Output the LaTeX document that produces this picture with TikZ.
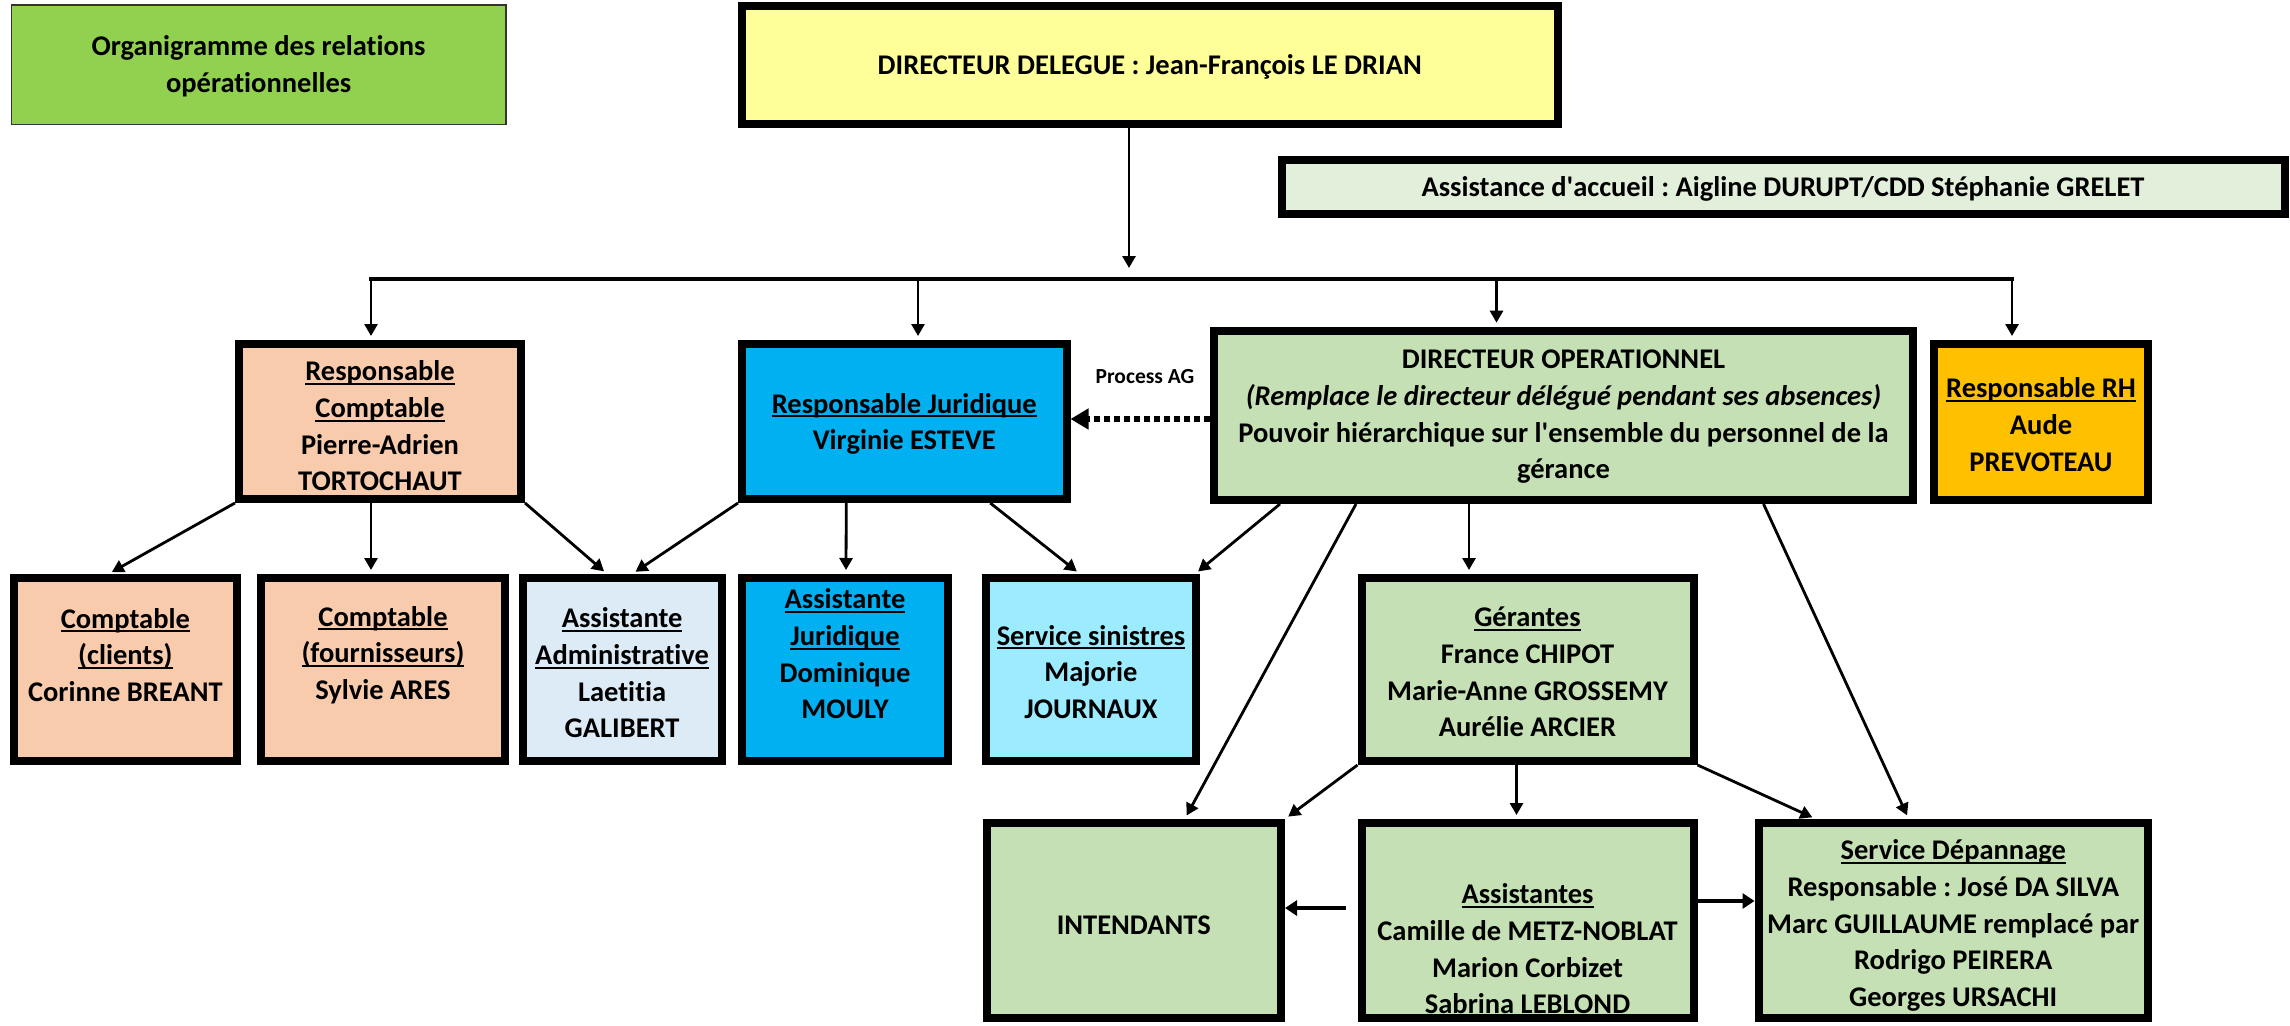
\documentclass[tikz,border=0pt]{standalone}
\usepackage{fontspec}
\setmainfont{Carlito}[Ligatures=NoCommon]
\frenchspacing
\usetikzlibrary{arrows.meta,calc}
\definecolor{cTitle}{HTML}{92D050}
\definecolor{cYel}{HTML}{FFFF99}
\definecolor{cAcc}{HTML}{E2EFDA}
\definecolor{cPeach}{HTML}{F8CBAD}
\definecolor{cBlue}{HTML}{00B0F0}
\definecolor{cPale}{HTML}{DDEBF7}
\definecolor{cCyan}{HTML}{9CEBFF}
\definecolor{cGreen}{HTML}{C5E0B4}
\definecolor{cOrange}{HTML}{FFC000}
\newcommand\uln[1]{\setbox0\hbox{#1}\leavevmode\rlap{\rule[-0.14em]{\wd0}{0.07em}}\box0}
\newcommand\apo{\textquotesingle}
\tikzset{
  box/.style={draw=black, line width=8pt, inner sep=0pt, rectangle},
  txt/.style={font=\fontsize{28.5}{36.7}\selectfont\bfseries\frenchspacing, align=center, inner sep=0pt},
  lab/.style={font=\fontsize{21.5}{26}\selectfont\bfseries, inner sep=0pt},
  arr/.style={line width=2.8pt, shorten >=4pt, -{Triangle[length=12pt,width=13pt]}},
  arrB/.style={line width=4pt, -{Triangle[length=12pt,width=15pt]}},
  bus/.style={line width=3.5pt, line cap=rect},
  dotarr/.style={line width=5.5pt, dash pattern=on 6pt off 4pt, -{Triangle[length=18pt,width=20pt]}},
}
\begin{document}
\begin{tikzpicture}[x=1pt,y=-1pt]
\useasboundingbox (0,0) rectangle (2290,1025);
% top row
\node[draw=black!80, line width=1.5pt, fill=cTitle, minimum width=494.3pt, minimum height=119.2pt, inner sep=0pt] (title) at (258.6,64.65) {};
\node[txt] (title-t) at (258.6,66) {Organigramme des relations\\opérationnelles};
\node[box, fill=cYel, minimum width=815.5pt, minimum height=118.3pt] (dd) at (1149.75,64.85) {};
\node[txt] (dd-t) at (1149.75,67) {DIRECTEUR DELEGUE : Jean-François LE DRIAN};
\node[box, fill=cAcc, minimum width=1003pt, minimum height=54pt] (acc) at (1783,187) {};
\node[txt] (acc-t) at (1783,189) {Assistance d\apo accueil : Aigline DURUPT/CDD Stéphanie GRELET};
% second row
\node[box, fill=cPeach, minimum width=282pt, minimum height=155pt] (rc) at (380,421.5) {};
\node[txt] (rc-t) at (380,426) {\uln{Responsable}\\\uln{Comptable}\\Pierre-Adrien\\TORTOCHAUT};
\node[box, fill=cBlue, minimum width=324.5pt, minimum height=155pt] (rj) at (904.25,421.5) {};
\node[txt] (rj-t) at (904.25,424) {\uln{Responsable Juridique}\\Virginie ESTEVE};
\node[box, fill=cGreen, minimum width=699pt, minimum height=169.3pt] (dop) at (1563.5,415.35) {};
\node[txt] (dop-t) at (1563.5,417) {DIRECTEUR OPERATIONNEL\\\textit{(Remplace le directeur délégué pendant ses absences)}\\Pouvoir hiérarchique sur l\apo ensemble du personnel de la\\gérance};
\node[box, fill=cOrange, minimum width=214pt, minimum height=156pt] (rh) at (2041,422) {};
\node[txt] (rh-t) at (2041,424.7) {\uln{Responsable RH}\\Aude\\PREVOTEAU};
% third row
\node[box, fill=cPeach, minimum width=223.3pt, minimum height=183pt] (cc) at (125.35,669.5) {};
\node[txt] (cc-t) at (125.35,655) {\uln{Comptable}\\\uln{(clients)}\\Corinne BREANT};
\node[box, fill=cPeach, minimum width=244pt, minimum height=183pt] (cf) at (383,669.5) {};
\node[txt] (cf-t) at (383,655) {\uln{Comptable}\\\uln{(fournisseurs)}\\Sylvie ARES};
\node[box, fill=cPale, minimum width=199pt, minimum height=183pt] (aa) at (622.1,669.5) {};
\node[txt] (aa-t) at (622.1,673) {\uln{Assistante}\\\uln{Administrative}\\Laetitia\\GALIBERT};
\node[box, fill=cBlue, minimum width=206pt, minimum height=183pt] (aj) at (845,669.5) {};
\node[txt] (aj-t) at (845,654) {\uln{Assistante}\\\uln{Juridique}\\Dominique\\MOULY};
\node[box, fill=cCyan, minimum width=210pt, minimum height=183pt] (ss) at (1091,669.5) {};
\node[txt] (ss-t) at (1091,672) {\uln{Service sinistres}\\Majorie\\JOURNAUX};
\node[box, fill=cGreen, minimum width=332pt, minimum height=183pt] (ger) at (1527.5,669.5) {};
\node[txt] (ger-t) at (1527.5,672) {\uln{Gérantes}\\France CHIPOT\\Marie-Anne GROSSEMY\\Aurélie ARCIER};
% fourth row
\node[box, fill=cGreen, minimum width=294.5pt, minimum height=195pt] (int) at (1133.75,920.5) {};
\node[txt] (int-t) at (1133.75,925) {INTENDANTS};
\node[box, fill=cGreen, minimum width=332pt, minimum height=195pt] (ass) at (1527.5,920.5) {};
\node[txt] (ass-t) at (1527.5,949) {\uln{Assistantes}\\Camille de METZ-NOBLAT\\Marion Corbizet\\Sabrina LEBLOND};
\node[box, fill=cGreen, minimum width=389.5pt, minimum height=195pt] (sd) at (1953.25,920.5) {};
\node[txt] (sd-t) at (1953.25,925.5) {\uln{Service Dépannage}\\Responsable : José DA SILVA\\Marc GUILLAUME remplacé par\\Rodrigo PEIRERA\\Georges URSACHI};
% bus
\coordinate (ddout) at (1129,268);
\coordinate (b1) at (371,279);
\coordinate (b2) at (918,279);
\coordinate (b3) at (1496.5,279);
\coordinate (b4) at (2012,279);
\coordinate (yAG) at (0,419);
\draw[arr, shorten >=0pt] (dd.south -| ddout) -- (ddout);
\draw[bus] (b1) -- (b4);
\draw[arr] (b1) -- (b1 |- rc.north);
\draw[arr] (b2) -- (b2 |- rj.north);
\draw[arr] (b3) -- (b3 |- dop.north);
\draw[arr] (b4) -- (b4 |- rh.north);
% connectors
\draw[arr] (rc.south west) -- ($(cc.north)+(-17,0)$);
\draw[arr] ($(rc.south)+(-9,0)$) -- ($(cf.north)+(-12,0)$);
\draw[arr] (rc.south east) -- ($(aa.north)+(-15,0)$);
\draw[arr] (rj.south west) -- ($(aa.north)+(10,0)$);
\draw[arr] ($(rj.south)+(-58,0)$) -- ($(aj.north)+(1,0)$);
\draw[arr] ($(rj.south)+(86,0)$) -- ($(ss.north)+(-11,0)$);
\draw[arr] ($(dop.south west)+(70,0)$) -- ($(ss.north east)+(-5,0)$);
\draw[arr] ($(dop.south west)+(146,0)$) -- ($(int.north)+(51,0)$);
\draw[arr] ($(dop.south)+(-94.5,0)$) -- ($(ger.north)+(-58.5,0)$);
\draw[arr] ($(dop.south)+(200,0)$) -- ($(sd.north)+(-44.5,0)$);
\draw[arr] (ger.south west) -- (int.north east);
\draw[arr] ($(ger.south)+(-11,0)$) -- ($(ass.north)+(-11,0)$);
\draw[arr] (ger.south east) -- ($(sd.north west)+(61.5,0)$);
\draw[arrB] ($(ass.west)+(-12,-12.5)$) -- ($(int.east)+(0,-12.5)$);
\draw[arrB] ($(ass.east)+(0,-19.5)$) -- ($(sd.west)+(0,-19.5)$);
\draw[dotarr] (dop.west |- yAG) -- (rj.east |- yAG);
\node[lab] (pag) at (1145,377) {Process AG};
\end{tikzpicture}
\end{document}
